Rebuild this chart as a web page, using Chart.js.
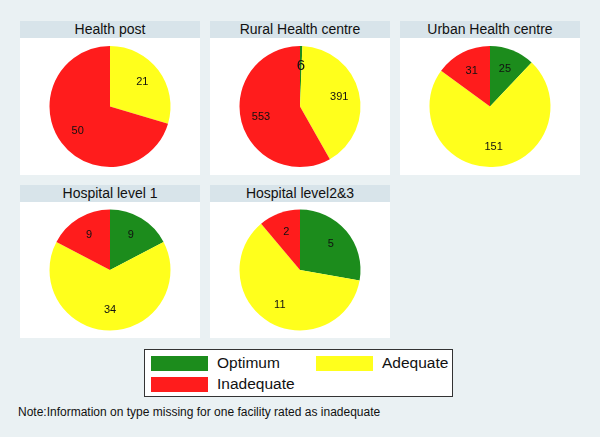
<!DOCTYPE html>
<html>
<head>
<meta charset="utf-8">
<script src="https://cdn.jsdelivr.net/npm/chart.js@4"></script>
<style>
  body { margin: 0; background: #eaf1f3; font-family: "Liberation Sans", Arial, sans-serif; }
  #wrap { position: relative; width: 600px; height: 437px; overflow: hidden; background: #eaf1f3; }
  .panel { position: absolute; width: 180px; }
  .head { height: 17px; line-height: 17px; background: #d8e4ea; text-align: center; font-size: 14px; color: #111; }
  .body { background: #fff; }
  .body canvas { display: block; }
  #legend { position: absolute; left: 144px; top: 349px; width: 309px; height: 48px; border: 1px solid #333; background: #fff; box-sizing: border-box; }
  .item { position: absolute; font-size: 15.5px; color: #111; }
  .sw { position: absolute; width: 57px; height: 15px; }
  #note { position: absolute; left: 18px; top: 405px; font-size: 12px; color: #111; }
</style>
</head>
<body>
<div id="wrap">
  <div id="panels"></div>
  <div id="legend"></div>
  <div id="note">Note:Information on type missing for one facility rated as inadequate</div>
</div>
<script>
const facilities = ['Health post', 'Rural Health centre', 'Urban Health centre', 'Hospital level 1', 'Hospital level2&3'];
const categories = ['Optimum', 'Adequate', 'Inadequate'];
const optimum = [0, 6, 25, 9, 5];
const adequate = [21, 391, 151, 34, 11];
const inadequate = [50, 553, 31, 9, 2];

const colors = ['#1c8c1c', '#ffff1c', '#ff1c1c'];

// panel positions (left, top of header, body height)
const spots = [[20, 21, 137], [210, 21, 137], [400, 21, 137], [20, 185, 136], [210, 185, 136]];

// draws the counts inside each slice
const sliceLabels = {
  id: 'sliceLabels',
  afterDatasetsDraw(chart) {
    const ctx = chart.ctx;
    const meta = chart.getDatasetMeta(0);
    const vals = chart.data.datasets[0].data;
    ctx.save();
    ctx.fillStyle = '#111';
    ctx.textAlign = 'center';
    ctx.textBaseline = 'middle';
    meta.data.forEach((arc, i) => {
      if (!vals[i]) return;
      const p = arc.getProps(['x', 'y', 'startAngle', 'endAngle', 'outerRadius'], true);
      const mid = (p.startAngle + p.endAngle) / 2;
      const r = p.outerRadius * 0.667;
      // the tiny slice label comes out bigger in the original
      const size = vals[i] / vals.reduce((a, b) => a + b, 0) < 0.03 ? 15 : 11;
      ctx.font = size + 'px "Liberation Sans", Arial, sans-serif';
      ctx.fillText(String(vals[i]), p.x + Math.cos(mid) * r, p.y + Math.sin(mid) * r);
    });
    ctx.restore();
  }
};

const panelsDiv = document.getElementById('panels');
facilities.forEach((name, k) => {
  const [left, top, h] = spots[k];
  const panel = document.createElement('div');
  panel.className = 'panel';
  panel.style.left = left + 'px';
  panel.style.top = top + 'px';
  panel.innerHTML = `<div class="head">${name.replace('&', '&amp;')}</div>
    <div class="body" style="height:${h}px"><canvas width="180" height="${h}"></canvas></div>`;
  panelsDiv.appendChild(panel);

  const canvas = panel.querySelector('canvas');
  new Chart(canvas, {
    type: 'pie',
    data: {
      labels: categories,
      datasets: [{
        data: [optimum[k], adequate[k], inadequate[k]],
        backgroundColor: colors,
        borderWidth: 0
      }]
    },
    options: {
      responsive: false,
      animation: false,
      layout: { padding: (h - 121) / 2 },
      plugins: { legend: { display: false }, tooltip: { enabled: false } }
    },
    plugins: [sliceLabels]
  });
});

// legend: Optimum, Adequate on first row, Inadequate below
const legend = document.getElementById('legend');
const legendPos = [[6, 6], [171, 6], [6, 27]];
categories.forEach((c, i) => {
  const [x, y] = legendPos[i];
  const sw = document.createElement('div');
  sw.className = 'sw';
  sw.style.left = x + 'px';
  sw.style.top = y + 'px';
  sw.style.background = colors[i];
  legend.appendChild(sw);
  const t = document.createElement('div');
  t.className = 'item';
  t.style.left = (x + 66) + 'px';
  t.style.top = (y - 2) + 'px';
  t.textContent = c;
  legend.appendChild(t);
});
</script>
</body>
</html>
